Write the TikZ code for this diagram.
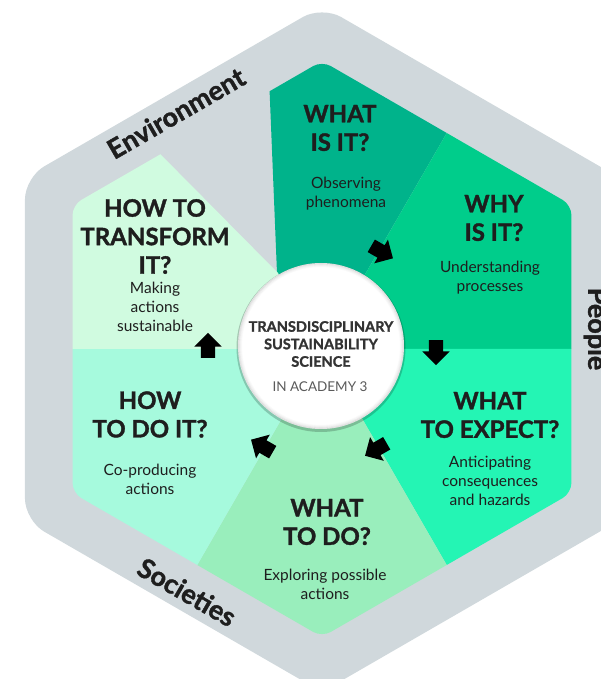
\documentclass[tikz,border=0pt]{standalone}
\usepackage{fontspec}
\setmainfont{Lato}[BoldFeatures={FakeBold=1.4}]
\usepackage{xcolor}
\usetikzlibrary{shapes.arrows}

\definecolor{band}{HTML}{D0D8DC}
\definecolor{whatis}{HTML}{00B38B}
\definecolor{whyis}{HTML}{00CD8B}
\definecolor{expect}{HTML}{24F5B4}
\definecolor{todo}{HTML}{99EEBC}
\definecolor{dohow}{HTML}{A6FADD}
\definecolor{transform}{HTML}{D0FBE0}
\definecolor{ink}{HTML}{1E1E1E}
\definecolor{hubink}{HTML}{333333}
\definecolor{academy}{HTML}{5A5A5A}

\tikzset{
	question/.style={align=center, text=ink, inner sep=0pt, font=\bfseries\fontsize{24}{28.5}\selectfont},
	answer/.style={align=center, text=ink, inner sep=0pt, font=\fontsize{15.5}{18.8}\selectfont},
	side/.style={text=ink, inner sep=0pt, font=\bfseries\fontsize{27}{30}\selectfont},
	turn/.style={single arrow, fill=black, inner xsep=0pt, inner ysep=7pt, minimum height=25pt, single arrow head extend=6.5pt},
}

\begin{document}
\begin{tikzpicture}[x=1pt, y=1pt]
		\useasboundingbox (-322,-330) rectangle (279,349);

		% grey band and the six fields
		\fill[band, rounded corners=22pt] (90:343) -- (30:343) -- (-30:343) -- (-90:343) -- (-150:343) -- (150:343) -- cycle;
		\begin{scope}
			\clip[rounded corners=10pt] (90:288) -- (30:288) -- (-30:288) -- (-90:288) -- (-150:288) -- (150:288) -- cycle;
			\fill[whatis] (0,0) -- (-45,76) -- (-59,420) -- (242.5,420) -- cycle;
			\fill[whyis] (0,0) -- (60:420) -- (30:500) -- (0:420) -- cycle;
			\fill[expect] (0,0) -- (0:420) -- (-30:500) -- (-60:420) -- cycle;
			\fill[todo] (0,0) -- (-60:420) -- (-90:500) -- (-120:420) -- cycle;
			\fill[dohow] (0,0) -- (-120:420) -- (-150:500) -- (180:420) -- cycle;
			\fill[transform] (0,0) -- (-44,76) -- (-344,379) -- (-420,379) -- (180:420) -- cycle;
		\end{scope}

		% hub
		\fill[black, opacity=.2] (-1,1.5) circle (84.5);
		\node[circle, fill=white, minimum size=166pt, inner sep=0pt] (hub) at (-1,3) {};
		\foreach \r/\o in {82.5/.22, 81.5/.14, 80.5/.08, 79.5/.04} {
				\draw[gray, opacity=\o, line width=1.1pt] (hub.center) circle (\r);
			}
		\node[align=center, text=hubink, inner sep=0pt, font=\bfseries\fontsize{14.5}{17.5}\selectfont] (title) at (-1,5) {TRANSDISCIPLINARY\\SUSTAINABILITY\\SCIENCE};
		\node[text=academy, inner sep=0pt, font=\fontsize{13.5}{16}\selectfont] (acad) at (-2,-38) {IN ACADEMY 3};

		% arrows round the hub
		\foreach \ang/\dir [count=\i] in {60/-30, 0/-90, -60/-150, -120/150, 180/90} {
				\node[turn, rotate=\dir] (arrow-\i) at (\ang:114) {};
			}

		% questions
		\node[question] (q-1) at (18,221) {WHAT\\IS IT?};
		\node[question] (q-2) at (172,131) {WHY\\IS IT?};
		\node[question] (q-3) at (168,-66) {WHAT\\TO EXPECT?};
		\node[question] (q-4) at (5,-173) {WHAT\\TO DO?};
		\node[question] (q-5) at (-172,-65.5) {HOW\\TO DO IT?};
		\node[question] (q-6) at (-167,112.5) {HOW TO\\TRANSFORM\\IT?};

		\node[answer] (a-1) at (24,155.5) {Observing\\phenomena};
		\node[answer] (a-2) at (168,71.5) {Understanding\\processes};
		\node[answer] (a-3) at (168,-132) {Anticipating\\consequences\\and hazards};
		\node[answer] (a-4) at (3,-235) {Exploring possible\\actions};
		\node[answer] (a-5) at (-172,-130) {Co-producing\\actions};
		\node[answer] (a-6) at (-167,42) {Making\\actions\\sustainable};

		% band labels
		\node[side, rotate=30] (env) at (-146,236) {Environment};
		\node[side, rotate=-30] (soc) at (-135,-243) {Societies};
		\node[side, rotate=-90] (ppl) at (274,20) {People};
	\end{tikzpicture}
\end{document}
